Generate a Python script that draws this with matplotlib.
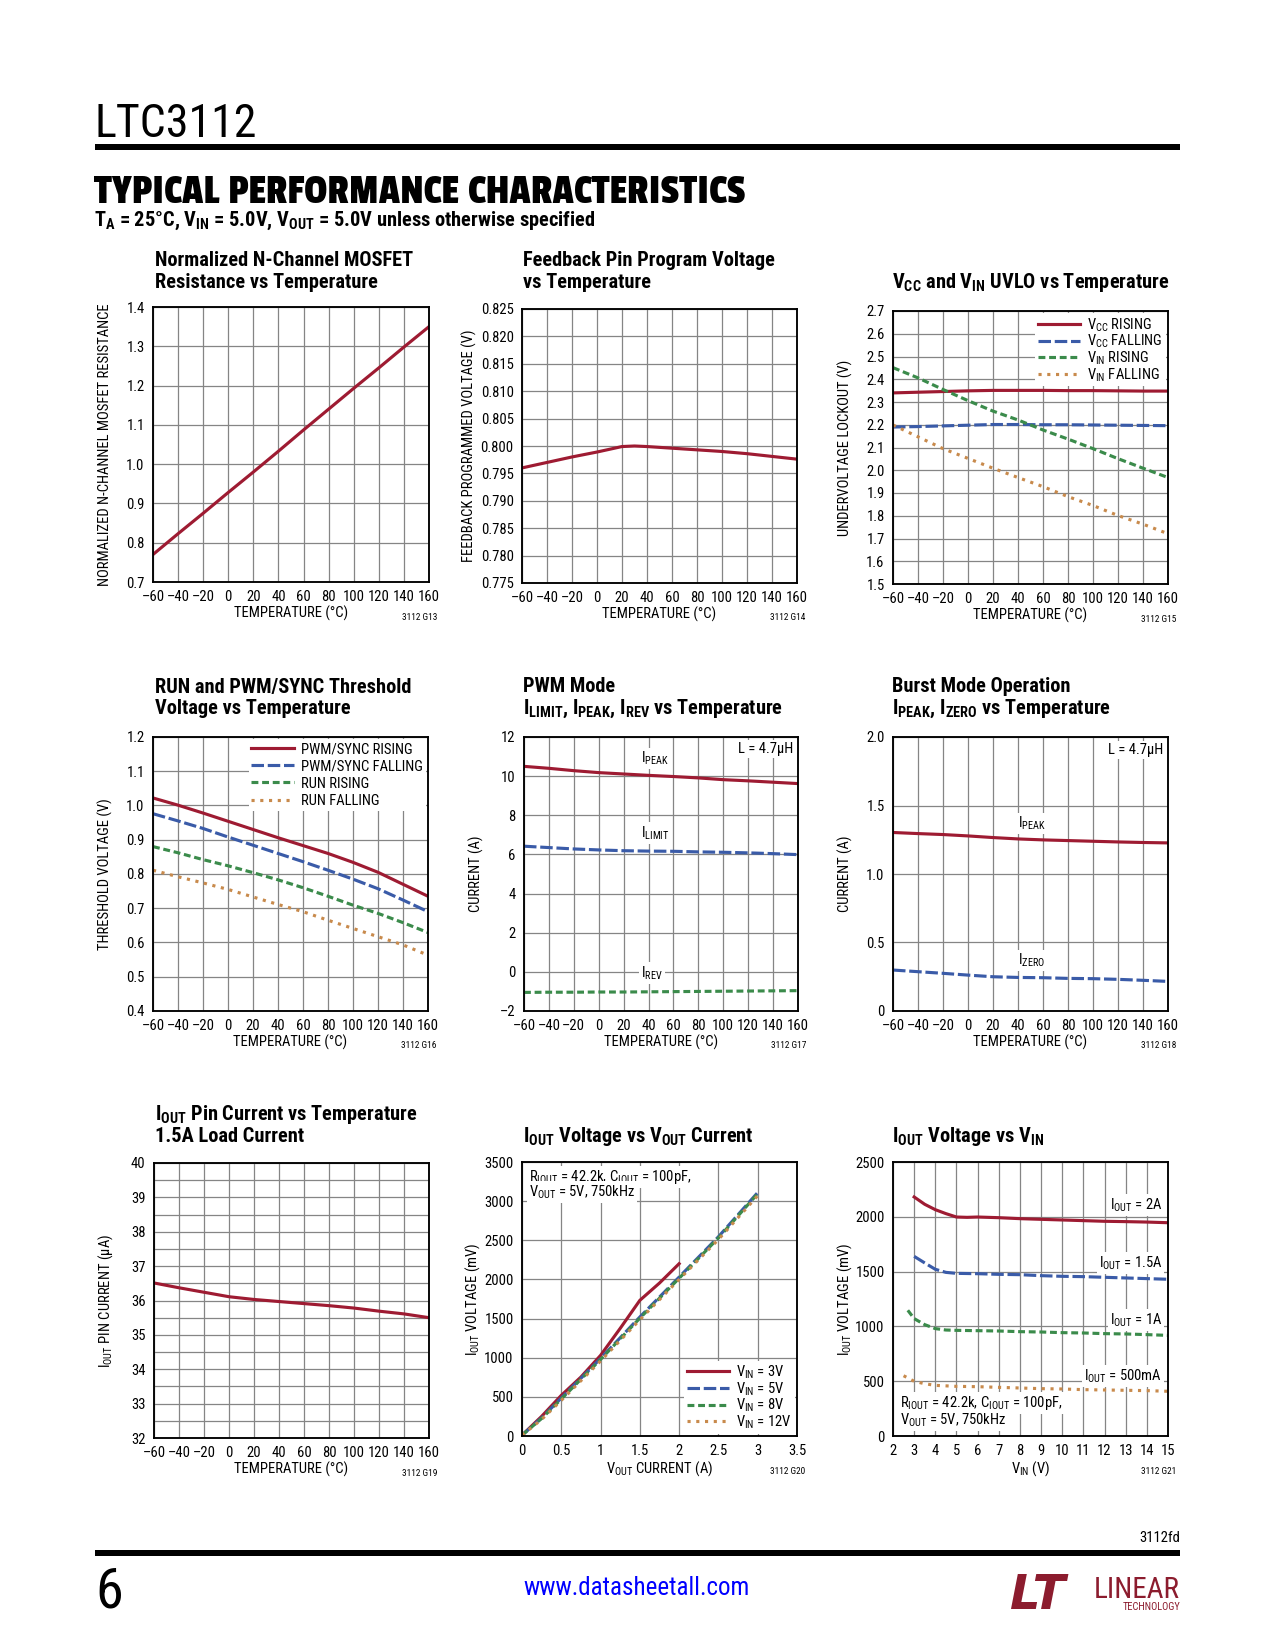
import matplotlib
matplotlib.use('Agg')
import matplotlib.pyplot as plt
from matplotlib.patches import Rectangle

# page size in pixels
W, H = 1275, 1650
DPI = 150

RED = '#9e1b32'
BLUE = '#3a5ba8'
GREEN = '#3b8b4b'
ORANGE = '#c88a4c'
GRID = '#858585'
LOGO = '#8c1c2e'

BODY_FONT = ['Roboto Condensed', 'PT Sans Narrow', 'Liberation Sans', 'DejaVu Sans']
HEAVY_FONT = ['Passion One', 'Anton', 'Roboto Condensed', 'DejaVu Sans']
DASH_SIGN = '\u2013'

# ---- data ----
TEMP = [-60, -40, -20, 0, 20, 40, 60, 80, 100, 120, 140, 160]
TEMP_TICKS = [-60, -40, -20, 0, 20, 40, 60, 80, 100, 120, 140, 160]

# G13 normalized N-channel MOSFET resistance
rds_norm = [0.770, 0.823, 0.875, 0.928, 0.980, 1.033, 1.087, 1.140, 1.193, 1.245, 1.298, 1.350]

# G14 feedback pin program voltage
fb_temp = [-60, -40, -20, 0, 10, 20, 30, 40, 60, 80, 100, 120, 140, 160]
fb_volt = [0.7960, 0.7970, 0.7980, 0.7989, 0.7994, 0.7999, 0.8000, 0.7999, 0.7996,
           0.7993, 0.7990, 0.7986, 0.7981, 0.7976]

# G15 UVLO
vcc_rising = [2.340, 2.343, 2.346, 2.349, 2.351, 2.351, 2.351, 2.350, 2.350, 2.349, 2.348, 2.348]
vcc_falling = [2.190, 2.192, 2.195, 2.198, 2.201, 2.201, 2.200, 2.200, 2.199, 2.198, 2.197, 2.196]
vin_rising = [2.451, 2.406, 2.355, 2.306, 2.260, 2.221, 2.177, 2.137, 2.095, 2.051, 2.009, 1.968]
vin_falling = [2.199, 2.147, 2.095, 2.052, 2.009, 1.968, 1.928, 1.884, 1.845, 1.801, 1.763, 1.721]

# G16 RUN and PWM/SYNC thresholds
pwm_rising = [1.022, 1.001, 0.978, 0.954, 0.930, 0.906, 0.883, 0.860, 0.834, 0.805, 0.770, 0.735]
pwm_falling = [0.976, 0.955, 0.933, 0.908, 0.884, 0.860, 0.836, 0.811, 0.785, 0.757, 0.724, 0.690]
run_rising = [0.880, 0.862, 0.842, 0.824, 0.804, 0.783, 0.760, 0.735, 0.709, 0.685, 0.658, 0.629]
run_falling = [0.811, 0.792, 0.774, 0.755, 0.733, 0.711, 0.690, 0.665, 0.641, 0.617, 0.593, 0.563]

# G17 PWM mode currents
ipeak_pwm = [10.50, 10.40, 10.28, 10.18, 10.11, 10.04, 9.98, 9.91, 9.82, 9.76, 9.69, 9.62]
ilimit_pwm = [6.42, 6.35, 6.28, 6.23, 6.19, 6.17, 6.16, 6.13, 6.11, 6.08, 6.04, 5.99]
irev_pwm = [-1.05, -1.04, -1.04, -1.03, -1.03, -1.02, -1.01, -1.00, -0.99, -0.98, -0.97, -0.96]

# G18 Burst Mode currents
ipeak_burst = [1.303, 1.295, 1.288, 1.278, 1.266, 1.256, 1.249, 1.244, 1.239, 1.234, 1.230, 1.227]
izero_burst = [0.299, 0.287, 0.275, 0.262, 0.250, 0.245, 0.243, 0.238, 0.236, 0.231, 0.224, 0.216]
burst_yticks = [0, 0.5, 1.0, 1.5, 2.0]
burst_ylabels = ['0', '0.5', '1.0', '1.5', '2.0']

# G19 IOUT pin current
iout_pin = [36.51, 36.37, 36.24, 36.11, 36.03, 35.97, 35.91, 35.85, 35.78, 35.69, 35.61, 35.50]

# G20 IOUT voltage vs VOUT current
iload_3v = [0, 0.25, 0.5, 0.75, 1.0, 1.25, 1.5, 1.75, 2.0]
viout_3v = [10, 251, 519, 753, 1030, 1375, 1733, 1954, 2201]
iload = [0, 0.25, 0.5, 1.0, 1.5, 2.0, 2.5, 3.0]
viout_5v = [10, 232, 485, 990, 1520, 2030, 2545, 3110]
viout_8v = [10, 224, 472, 978, 1505, 2015, 2530, 3095]
viout_12v = [10, 212, 455, 958, 1485, 2000, 2510, 3070]
iload_ticks = [0, 0.5, 1, 1.5, 2, 2.5, 3, 3.5]
iload_labels = ['0', '0.5', '1', '1.5', '2', '2.5', '3', '3.5']

# G21 IOUT voltage vs VIN
vin_2a = [3, 3.5, 4, 4.5, 5, 5.5, 6, 7, 8, 9, 10, 11, 12, 13, 14, 15]
viout_2a = [2181, 2114, 2065, 2029, 1998, 1995, 1998, 1992, 1983, 1977, 1971, 1965, 1959, 1956, 1952, 1946]
vin_15a = [3, 3.5, 4, 4.5, 5, 6, 7, 8, 9, 10, 11, 12, 13, 14, 15]
viout_15a = [1639, 1579, 1521, 1493, 1484, 1481, 1475, 1472, 1463, 1457, 1454, 1448, 1442, 1436, 1430]
vin_1a = [2.7, 3, 3.5, 4, 4.5, 5, 6, 7, 8, 9, 10, 11, 12, 13, 14, 15]
viout_1a = [1147, 1071, 1016, 980, 967, 964, 961, 958, 952, 949, 943, 940, 934, 931, 925, 918]
vin_05a = [2.5, 3, 3.5, 4, 5, 6, 7, 8, 9, 10, 11, 12, 13, 14, 15]
viout_05a = [550, 499, 477, 462, 453, 450, 444, 438, 432, 429, 423, 420, 417, 414, 408]

# line styles (dash patterns are scaled by line width)
LW = 1.5
DASH_LONG = (4.0, 1.2)
DASH_MED = (2.2, 1.2)
DOTS = (1.0, 1.8)

plt.rcParams['font.family'] = BODY_FONT
plt.rcParams['mathtext.default'] = 'regular'

TICK_FS = 7
TITLE_FS = 9.8

fig = plt.figure(figsize=(W / DPI, H / DPI), dpi=DPI)


def fx(x):
    return x / W


def fy(y):
    return 1 - y / H


def signed(v):
    # datasheet style negative numbers use a dash
    return (DASH_SIGN + '%g' % -v) if v < 0 else '%g' % v


def make_axes(box):
    left, top, right, bottom = box
    ax = fig.add_axes([fx(left), fy(bottom), (right - left) / W, (bottom - top) / H])
    ax.set_axisbelow(True)
    ax.grid(True, which='both', color=GRID, lw=0.6)
    for s in ax.spines.values():
        s.set_linewidth(0.9)
    ax.tick_params(which='both', length=0, labelsize=TICK_FS, pad=4)
    return ax


def label_axes(ax, box, xlabel, ylabel, ylab_x, fig_id, xlab_off=31):
    left, top, right, bottom = box
    w = right - left
    h = bottom - top
    ax.set_xlabel(xlabel, fontsize=TICK_FS, va='center')
    ax.xaxis.set_label_coords(0.5, -xlab_off / h)
    ax.set_ylabel(ylabel, fontsize=TICK_FS, va='center')
    ax.yaxis.set_label_coords((ylab_x - left) / w, 0.5)
    fig.text(fx(right + 8), fy(bottom + 35), fig_id, fontsize=4.5, ha='right', va='center')


def title(x, y, lines):
    for i, t in enumerate(lines):
        fig.text(fx(x), fy(y + 22 * i), t, fontsize=TITLE_FS, fontweight='bold', ha='left', va='center')


def temp_axis(ax):
    ax.set_xlim(-60, 160)
    ax.set_xticks(TEMP_TICKS)
    ax.set_xticklabels([signed(t) for t in TEMP_TICKS])


def legend(ax, loc='upper right', spacing=-0.05):
    ax.legend(loc=loc, frameon=True, fancybox=False, edgecolor='none', facecolor='white',
              framealpha=1, fontsize=TICK_FS, handlelength=2.9, handletextpad=0.5,
              labelspacing=spacing, borderpad=0.2, borderaxespad=0.15)


def tag(ax, x, y, s, ha='left', coords='data'):
    kw = {}
    if coords == 'axes':
        kw['transform'] = ax.transAxes
    ax.text(x, y, s, fontsize=TICK_FS, ha=ha, va='center', zorder=4,
            bbox=dict(facecolor='white', edgecolor='none', pad=1.0), **kw)


# ---- page header ----
fig.text(fx(94), fy(137), 'LTC3112', fontsize=22, ha='left', va='baseline')
fig.add_artist(Rectangle((fx(95), fy(150)), (1180 - 95) / W, 6 / H, transform=fig.transFigure,
                         color='black', lw=0))
fig.text(fx(94), fy(203), 'TYPICAL PERFORMANCE CHARACTERISTICS', fontsize=20.8, family=HEAVY_FONT,
         ha='left', va='baseline')
fig.text(fx(94), fy(226), 'T$_A$ = 25°C, V$_{IN}$ = 5.0V, V$_{OUT}$ = 5.0V unless otherwise specified',
         fontsize=TITLE_FS, fontweight='bold', ha='left', va='baseline')

# ---- row 1 ----
box1 = (153, 307, 429, 582)
ax1 = make_axes(box1)
ax1.plot(TEMP, rds_norm, color=RED, lw=LW)
temp_axis(ax1)
ax1.set_ylim(0.7, 1.4)
ax1.set_yticks([0.7, 0.8, 0.9, 1.0, 1.1, 1.2, 1.3, 1.4])
ax1.set_yticklabels(['0.7', '0.8', '0.9', '1.0', '1.1', '1.2', '1.3', '1.4'])
label_axes(ax1, box1, 'TEMPERATURE (°C)', 'NORMALIZED N-CHANNEL MOSFET RESISTANCE', 105, '3112 G13')
title(155, 261, ['Normalized N-Channel MOSFET', 'Resistance vs Temperature'])

box2 = (522, 309, 797, 583)
ax2 = make_axes(box2)
ax2.plot(fb_temp, fb_volt, color=RED, lw=LW)
temp_axis(ax2)
ax2.set_ylim(0.775, 0.825)
fb_ticks = [0.775, 0.780, 0.785, 0.790, 0.795, 0.800, 0.805, 0.810, 0.815, 0.820, 0.825]
ax2.set_yticks(fb_ticks)
ax2.set_yticklabels(['%.3f' % v for v in fb_ticks])
label_axes(ax2, box2, 'TEMPERATURE (°C)', 'FEEDBACK PROGRAMMED VOLTAGE (V)', 469, '3112 G14')
title(523, 261, ['Feedback Pin Program Voltage', 'vs Temperature'])

box3 = (893, 311, 1168, 584)
ax3 = make_axes(box3)
ax3.plot(TEMP, vcc_rising, color=RED, lw=LW, label='V$_{CC}$ RISING')
ax3.plot(TEMP, vcc_falling, color=BLUE, lw=LW, dashes=DASH_LONG, label='V$_{CC}$ FALLING')
ax3.plot(TEMP, vin_rising, color=GREEN, lw=LW, dashes=DASH_MED, label='V$_{IN}$ RISING')
ax3.plot(TEMP, vin_falling, color=ORANGE, lw=LW, dashes=DOTS, label='V$_{IN}$ FALLING')
temp_axis(ax3)
ax3.set_ylim(1.5, 2.7)
uv_ticks = [1.5, 1.6, 1.7, 1.8, 1.9, 2.0, 2.1, 2.2, 2.3, 2.4, 2.5, 2.6, 2.7]
ax3.set_yticks(uv_ticks)
ax3.set_yticklabels(['%.1f' % v for v in uv_ticks])
legend(ax3)
label_axes(ax3, box3, 'TEMPERATURE (°C)', 'UNDERVOLTAGE LOCKOUT (V)', 845, '3112 G15')
title(892, 283, ['V$_{CC}$ and V$_{IN}$ UVLO vs Temperature'])

# ---- row 2 ----
box4 = (153, 737, 428, 1011)
ax4 = make_axes(box4)
ax4.plot(TEMP, pwm_rising, color=RED, lw=LW, label='PWM/SYNC RISING')
ax4.plot(TEMP, pwm_falling, color=BLUE, lw=LW, dashes=DASH_LONG, label='PWM/SYNC FALLING')
ax4.plot(TEMP, run_rising, color=GREEN, lw=LW, dashes=DASH_MED, label='RUN RISING')
ax4.plot(TEMP, run_falling, color=ORANGE, lw=LW, dashes=DOTS, label='RUN FALLING')
temp_axis(ax4)
ax4.set_ylim(0.4, 1.2)
th_ticks = [0.4, 0.5, 0.6, 0.7, 0.8, 0.9, 1.0, 1.1, 1.2]
ax4.set_yticks(th_ticks)
ax4.set_yticklabels(['%.1f' % v for v in th_ticks])
legend(ax4, spacing=0.22)
label_axes(ax4, box4, 'TEMPERATURE (°C)', 'THRESHOLD VOLTAGE (V)', 105, '3112 G16')
title(155, 687, ['RUN and PWM/SYNC Threshold', 'Voltage vs Temperature'])

box5 = (524, 737, 798, 1011)
ax5 = make_axes(box5)
ax5.plot(TEMP, ipeak_pwm, color=RED, lw=LW)
ax5.plot(TEMP, ilimit_pwm, color=BLUE, lw=LW, dashes=DASH_LONG)
ax5.plot(TEMP, irev_pwm, color=GREEN, lw=LW, dashes=DASH_MED)
temp_axis(ax5)
ax5.set_ylim(-2, 12)
cur_ticks = [-2, 0, 2, 4, 6, 8, 10, 12]
ax5.set_yticks(cur_ticks)
ax5.set_yticklabels([signed(v) for v in cur_ticks])
tag(ax5, 34, 10.9, 'I$_{PEAK}$')
tag(ax5, 34, 7.1, 'I$_{LIMIT}$')
tag(ax5, 34, -0.05, 'I$_{REV}$')
tag(ax5, 156, 11.4, 'L = 4.7µH', ha='right')
label_axes(ax5, box5, 'TEMPERATURE (°C)', 'CURRENT (A)', 476, '3112 G17')
title(523, 687, ['PWM Mode', 'I$_{LIMIT}$, I$_{PEAK}$, I$_{REV}$ vs Temperature'])

box6 = (893, 737, 1168, 1011)
ax6 = make_axes(box6)
ax6.plot(TEMP, ipeak_burst, color=RED, lw=LW)
ax6.plot(TEMP, izero_burst, color=BLUE, lw=LW, dashes=DASH_LONG)
temp_axis(ax6)
ax6.set_ylim(0, 2.0)
ax6.set_yticks(burst_yticks)
ax6.set_yticklabels(burst_ylabels)
tag(ax6, 40, 1.37, 'I$_{PEAK}$')
tag(ax6, 40, 0.37, 'I$_{ZERO}$')
tag(ax6, 156, 1.905, 'L = 4.7µH', ha='right')
label_axes(ax6, box6, 'TEMPERATURE (°C)', 'CURRENT (A)', 845, '3112 G18')
title(892, 687, ['Burst Mode Operation', 'I$_{PEAK}$, I$_{ZERO}$ vs Temperature'])

# ---- row 3 ----
box7 = (154, 1163, 429, 1438)
ax7 = make_axes(box7)
ax7.plot(TEMP, iout_pin, color=RED, lw=LW)
temp_axis(ax7)
ax7.set_ylim(32, 40)
ax7.set_yticks([32, 33, 34, 35, 36, 37, 38, 39, 40])
ax7.set_yticks([32.5, 33.5, 34.5, 35.5, 36.5, 37.5, 38.5, 39.5], minor=True)
label_axes(ax7, box7, 'TEMPERATURE (°C)', 'I$_{OUT}$ PIN CURRENT (µA)', 106, '3112 G19')
title(155, 1115, ['I$_{OUT}$ Pin Current vs Temperature', '1.5A Load Current'])

box8 = (522, 1162, 797, 1436)
ax8 = make_axes(box8)
ax8.plot(iload_3v, viout_3v, color=RED, lw=LW, label='V$_{IN}$ = 3V')
ax8.plot(iload, viout_5v, color=BLUE, lw=LW, dashes=DASH_LONG, label='V$_{IN}$ = 5V')
ax8.plot(iload, viout_8v, color=GREEN, lw=LW, dashes=DASH_MED, label='V$_{IN}$ = 8V')
ax8.plot(iload, viout_12v, color=ORANGE, lw=LW, dashes=DOTS, label='V$_{IN}$ = 12V')
ax8.set_xlim(0, 3.5)
ax8.set_xticks(iload_ticks)
ax8.set_xticklabels(iload_labels)
ax8.set_ylim(0, 3500)
ax8.set_yticks([0, 500, 1000, 1500, 2000, 2500, 3000, 3500])
legend(ax8, loc='lower right')
tag(ax8, 0.025, 0.945, 'R$_{IOUT}$ = 42.2k, C$_{IOUT}$ = 100pF,', coords='axes')
tag(ax8, 0.025, 0.89, 'V$_{OUT}$ = 5V, 750kHz', coords='axes')
label_axes(ax8, box8, 'V$_{OUT}$ CURRENT (A)', 'I$_{OUT}$ VOLTAGE (mV)', 473, '3112 G20', xlab_off=33)
title(523, 1137, ['I$_{OUT}$ Voltage vs V$_{OUT}$ Current'])

box9 = (893, 1162, 1168, 1436)
ax9 = make_axes(box9)
ax9.plot(vin_2a, viout_2a, color=RED, lw=LW)
ax9.plot(vin_15a, viout_15a, color=BLUE, lw=LW, dashes=DASH_LONG)
ax9.plot(vin_1a, viout_1a, color=GREEN, lw=LW, dashes=DASH_MED)
ax9.plot(vin_05a, viout_05a, color=ORANGE, lw=LW, dashes=DOTS)
ax9.set_xlim(2, 15)
ax9.set_xticks(list(range(2, 16)))
ax9.set_ylim(0, 2500)
ax9.set_yticks([0, 500, 1000, 1500, 2000, 2500])
tag(ax9, 14.72, 2108, 'I$_{OUT}$ = 2A', ha='right')
tag(ax9, 14.72, 1578, 'I$_{OUT}$ = 1.5A', ha='right')
tag(ax9, 14.72, 1058, 'I$_{OUT}$ = 1A', ha='right')
tag(ax9, 14.72, 547, 'I$_{OUT}$ = 500mA', ha='right')
tag(ax9, 0.025, 0.12, 'R$_{IOUT}$ = 42.2k, C$_{IOUT}$ = 100pF,', coords='axes')
tag(ax9, 0.025, 0.058, 'V$_{OUT}$ = 5V, 750kHz', coords='axes')
label_axes(ax9, box9, 'V$_{IN}$ (V)', 'I$_{OUT}$ VOLTAGE (mV)', 845, '3112 G21', xlab_off=33)
title(892, 1137, ['I$_{OUT}$ Voltage vs V$_{IN}$'])

# ---- page footer ----
fig.text(fx(1180), fy(1542), '3112fd', fontsize=7, ha='right', va='baseline')
fig.add_artist(Rectangle((fx(95), fy(1556)), (1180 - 95) / W, 6 / H, transform=fig.transFigure,
                         color='black', lw=0))
fig.text(fx(95), fy(1607), '6', fontsize=27, ha='left', va='baseline')
fig.text(fx(637), fy(1595), 'www.datasheetall.com', fontsize=12, color='#0000ff', ha='center', va='baseline')
fig.text(fx(1010), fy(1609), 'LT', fontsize=23, fontweight='bold', style='italic', color=LOGO,
         family=['DejaVu Sans'], ha='left', va='baseline')
fig.text(fx(1180), fy(1598), 'LINEAR', fontsize=14, color=LOGO, ha='right', va='baseline')
fig.text(fx(1180), fy(1610), 'TECHNOLOGY', fontsize=5, color=LOGO, ha='right', va='baseline')

fig.savefig('out.png', dpi=DPI, facecolor='white')
